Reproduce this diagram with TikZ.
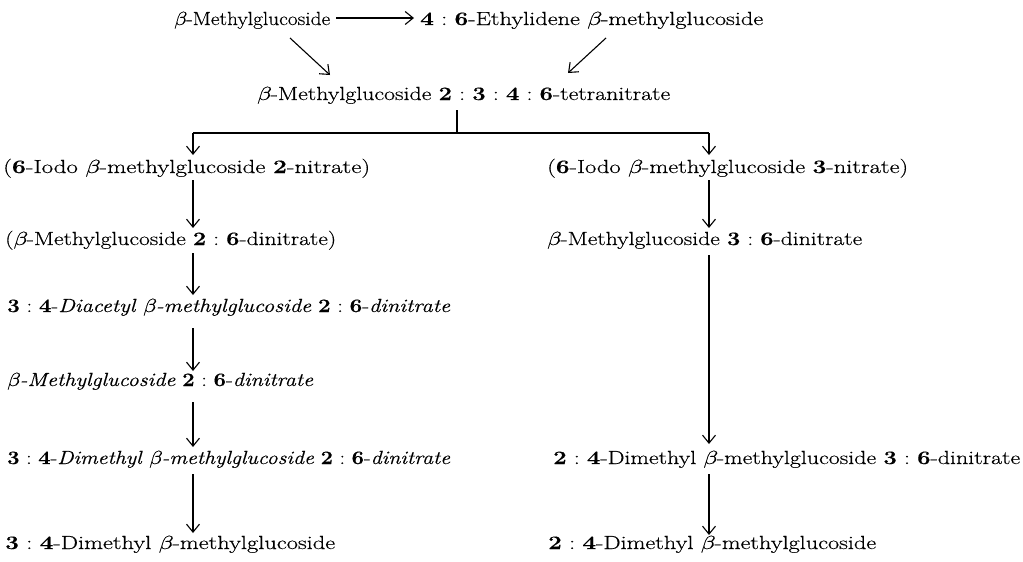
\documentclass[tikz,border=0pt]{standalone}
\usepackage{fontspec}
\setmainfont{Latin Modern Roman}[FakeBold=0.35]
\newfontfamily\gkfont{Latin Modern Math}[FakeBold=0.35]
\usetikzlibrary{arrows.meta,calc}
\newcommand\bd[1]{\textbf{#1}}
\newcommand\bt{{\gkfont 𝛽}}
\newcommand\cl{\hspace{0.3em}:\hspace{0.3em}}
\newcommand\fw[2]{\resizebox{#1pt}{\height}{#2}}
\begin{document}
\begin{tikzpicture}[x=1pt,y=-1pt,
  lbl/.style={inner sep=0pt,anchor=base west,font=\fontsize{19}{22}\selectfont},
  arr/.style={line width=1.1pt,-{Straight Barb[length=8pt,width=13pt,line width=1.1pt]}},
  ln/.style={line width=1.1pt}]
\useasboundingbox (0,0) rectangle (1023,562);
\coordinate (lc) at (193,0);
\coordinate (rc) at (709,0);
\coordinate (mc) at (457,0);
\node[lbl] (a) at (174,25) {\fw{156}{\bt-Methylglucoside}};
\node[lbl] (b) at (420,25) {\fw{343}{\bd{4}\cl\bd{6}-Ethylidene \bt-methylglucoside}};
\node[lbl] (c) at (257,100) {\fw{413}{\bt-Methylglucoside \bd{2}\cl\bd{3}\cl\bd{4}\cl\bd{6}-tetranitrate}};
\node[lbl] (l1) at (3,173) {\fw{367}{(\bd{6}-Iodo \bt-methylglucoside \bd{2}-nitrate)}};
\node[lbl] (r1) at (547,173) {\fw{361}{(\bd{6}-Iodo \bt-methylglucoside \bd{3}-nitrate)}};
\node[lbl] (l2) at (5,245) {\fw{331}{(\bt-Methylglucoside \bd{2}\cl\bd{6}-dinitrate)}};
\node[lbl] (r2) at (547,245) {\fw{315}{\bt-Methylglucoside \bd{3}\cl\bd{6}-dinitrate}};
\node[lbl] (l3) at (7,312) {\fw{443}{\bd{3}\cl\bd{4}-\textit{Diacetyl \bt-methylglucoside} \bd{2}\cl\bd{6}-\textit{dinitrate}}};
\node[lbl] (l4) at (7,386) {\fw{306}{\textit{\bt-Methylglucoside} \bd{2}\cl\bd{6}-\textit{dinitrate}}};
\node[lbl] (l5) at (7,464) {\fw{443}{\bd{3}\cl\bd{4}-\textit{Dimethyl \bt-methylglucoside} \bd{2}\cl\bd{6}-\textit{dinitrate}}};
\node[lbl] (r5) at (553,464) {\fw{467}{\bd{2}\cl\bd{4}-Dimethyl \bt-methylglucoside \bd{3}\cl\bd{6}-dinitrate}};
\node[lbl] (l6) at (5,549) {\fw{330}{\bd{3}\cl\bd{4}-Dimethyl \bt-methylglucoside}};
\node[lbl] (r6) at (548,549) {\fw{328}{\bd{2}\cl\bd{4}-Dimethyl \bt-methylglucoside}};
% top arrows
\draw[arr] ($(a.base east)+(6,-7)$) -- ($(b.base west)+(-6,-7)$);
\draw[arr] ($(a.base west)+(116,13)$) -- ($(c.base west)+(73,-25)$);
\draw[arr] ($(b.base west)+(186,13)$) -- ($(c.base west)+(311,-27)$);
% split
\draw[ln] ($(c.base -| mc)+(0,10)$) -- ($(c.base -| mc)+(0,33)$);
\draw[ln] ($(c.base -| lc)+(0,33)$) -- ($(c.base -| rc)+(0,33)$);
\draw[arr] ($(c.base -| lc)+(0,33)$) -- ($(l1.base -| lc)+(0,-18)$);
\draw[arr] ($(c.base -| rc)+(0,33)$) -- ($(r1.base -| rc)+(0,-18)$);
% left chain
\draw[arr] ($(l1.base -| lc)+(0,7)$) -- ($(l2.base -| lc)+(0,-17)$);
\draw[arr] ($(l2.base -| lc)+(0,8)$) -- ($(l3.base -| lc)+(0,-17)$);
\draw[arr] ($(l3.base -| lc)+(0,16)$) -- ($(l4.base -| lc)+(0,-15)$);
\draw[arr] ($(l4.base -| lc)+(0,16)$) -- ($(l5.base -| lc)+(0,-17)$);
\draw[arr] ($(l5.base -| lc)+(0,10)$) -- ($(l6.base -| lc)+(0,-16)$);
% right chain
\draw[arr] ($(r1.base -| rc)+(0,7)$) -- ($(r2.base -| rc)+(0,-17)$);
\draw[arr] ($(r2.base -| rc)+(0,10)$) -- ($(r5.base -| rc)+(0,-20)$);
\draw[arr] ($(r5.base -| rc)+(0,10)$) -- ($(r6.base -| rc)+(0,-14)$);
\end{tikzpicture}
\end{document}
